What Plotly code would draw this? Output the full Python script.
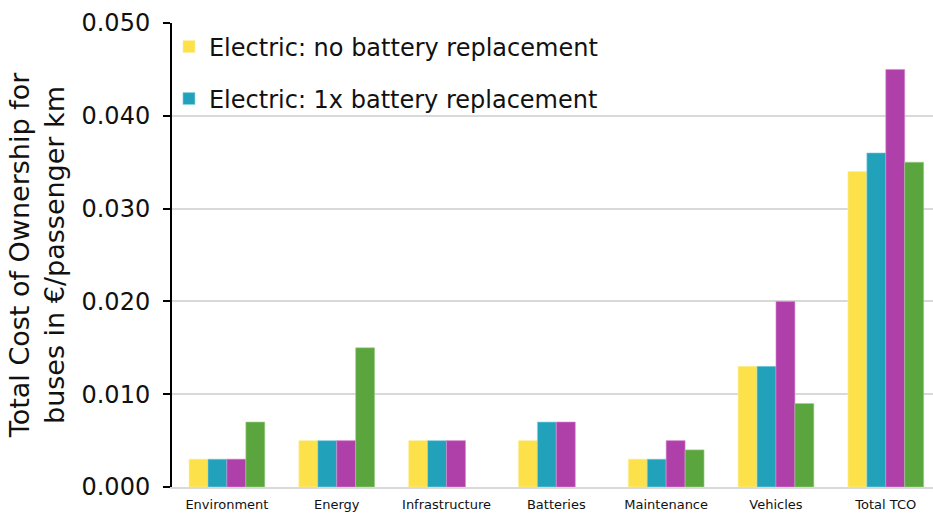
import plotly.graph_objects as go

categories = ["Environment", "Energy", "Infrastructure", "Batteries",
              "Maintenance", "Vehicles", "Total TCO"]
no_replacement = [0.003, 0.005, 0.005, 0.005, 0.003, 0.013, 0.034]
one_replacement = [0.003, 0.005, 0.005, 0.007, 0.003, 0.013, 0.036]
series_purple = [0.003, 0.005, 0.005, 0.007, 0.005, 0.020, 0.045]
series_green = [0.007, 0.015, None, None, 0.004, 0.009, 0.035]
y_ticks = [0.0, 0.01, 0.02, 0.03, 0.04, 0.05]

FONT = "DejaVu Sans"

fig = go.Figure()
fig.add_bar(x=categories, y=no_replacement, name="Electric: no battery replacement",
            marker=dict(color="#FCE14B", line=dict(color="#fdf0a0", width=0.6)),
            legend="legend")
fig.add_bar(x=categories, y=one_replacement, name="Electric: 1x battery replacement",
            marker=dict(color="#21A1BA", line=dict(color="#8fd3e0", width=0.6)),
            legend="legend2")
fig.add_bar(x=categories, y=series_purple, showlegend=False,
            marker=dict(color="#B040A9", line=dict(color="#d68ad0", width=0.6)))
fig.add_bar(x=categories, y=series_green, showlegend=False,
            marker=dict(color="#5BA53E", line=dict(color="#9fd08a", width=0.6)))

legend_style = dict(font=dict(family=FONT, size=24, color="#111"),
                    bgcolor="rgba(255,255,255,0)", xanchor="left", yanchor="middle",
                    itemwidth=30)

fig.update_layout(
    width=933, height=514,
    margin=dict(l=172, r=0, t=23, b=27),
    paper_bgcolor="white", plot_bgcolor="white",
    barmode="group", bargap=0.31, bargroupgap=0,
    font=dict(family=FONT, color="#111"),
    legend=dict(x=-0.004, y=(487 - 47) / 464, **legend_style),
    legend2=dict(x=-0.004, y=(487 - 99) / 464, **legend_style),
    xaxis=dict(
        range=[-0.5, 6.43], showgrid=False, ticks="",
        tickfont=dict(family=FONT, size=13, color="#111"),
        ticklabelstandoff=4,
        showline=True, linecolor="#d9d9d9", linewidth=2,
    ),
    yaxis=dict(
        range=[0, 0.05], tickvals=y_ticks, tickformat=".3f",
        tickfont=dict(family=FONT, size=24, color="#111"),
        ticklabelstandoff=8,
        showgrid=True, gridcolor="#d9d9d9", gridwidth=2,
        zeroline=False,
        showline=True, linecolor="black", linewidth=2,
        ticks="outside", ticklen=7, tickcolor="black", tickwidth=1.5,
        title=dict(text="Total Cost of Ownership for<br>buses in €/passenger km",
                   font=dict(family=FONT, size=27, color="#111"), standoff=9),
    ),
)

fig.write_html("out.html")
